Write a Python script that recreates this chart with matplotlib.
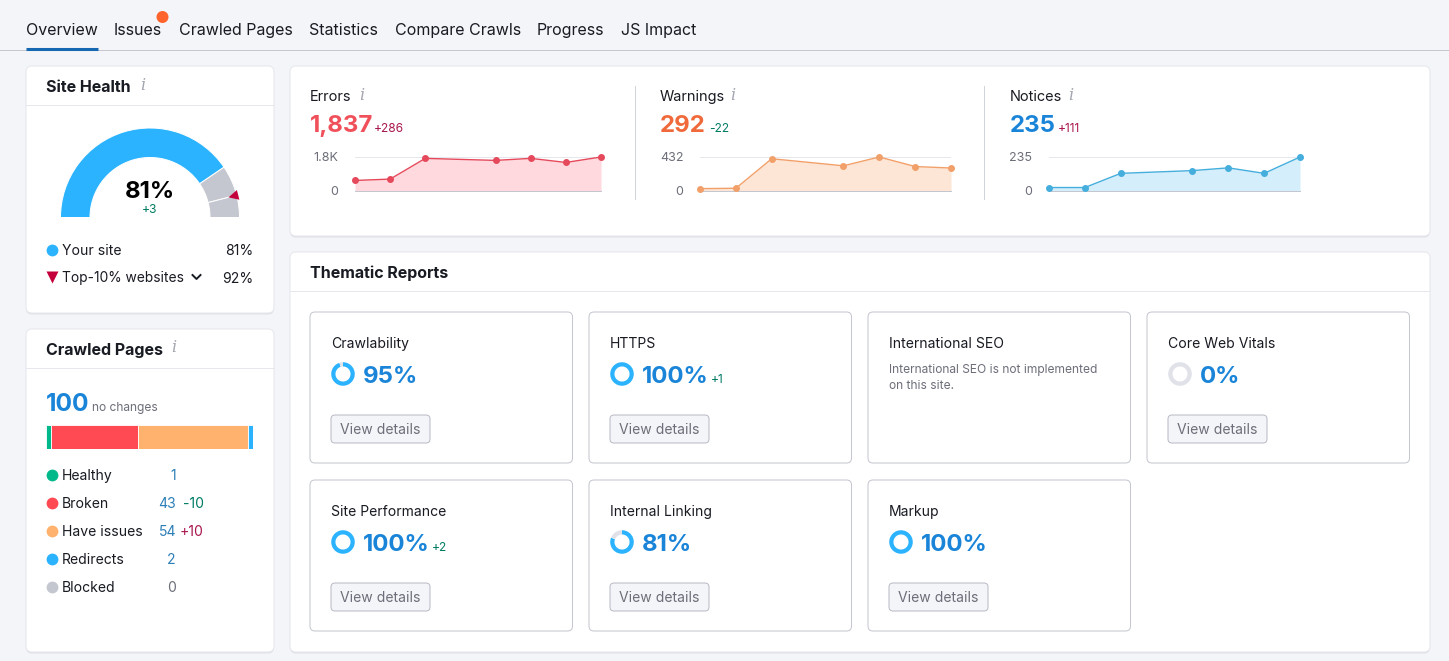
import matplotlib
matplotlib.use('Agg')
import matplotlib.pyplot as plt
from matplotlib.patches import FancyBboxPatch, Wedge, Polygon, Circle
import numpy as np

W, H = 1449, 661

tabs = ['Overview', 'Issues', 'Crawled Pages', 'Statistics', 'Compare Crawls', 'Progress', 'JS Impact']
tab_x = [26, 114, 179, 309, 395, 537, 621]

site_score = 81
site_delta = '+3'
top10_score = 92

trend_days = [0, 1, 2, 4, 5, 6, 7]
errors = [570, 643, 1763, 1653, 1763, 1543, 1837]
warnings = [30, 35, 410, 320, 432, 311, 292]
notices = [24, 24, 122, 141, 160, 122, 235]

page_labels = ['Healthy', 'Broken', 'Have issues', 'Redirects', 'Blocked']
page_values = [1, 43, 54, 2, 0]
page_deltas = ['', '-10', '+10', '', '']
page_colors = ['#00B88A', '#FF4953', '#FFB26E', '#2BB3FF', '#C4C7CF']

report_names = ['Crawlability', 'HTTPS', 'International SEO', 'Core Web Vitals',
                'Site Performance', 'Internal Linking', 'Markup']
report_scores = [95, 100, None, 0, 100, 81, 100]
report_deltas = ['', '+1', '', '', '+2', '', '']

INK = '#191B23'
GREY = '#6C6E79'
BORDER = '#D1D4DB'
BLUE = '#2BB3FF'
VALUE_BLUE = '#1A85D8'
UP_RED = '#A8174E'
DOWN_GREEN = '#007C65'
ONE_PX = 0.72

plt.rcParams['font.family'] = ['Inter', 'DejaVu Sans']

fig = plt.figure(figsize=(W / 100, H / 100), dpi=100, facecolor='#F4F5F9')
page = fig.add_axes([0, 0, 1, 1])
page.set_xlim(0, W)
page.set_ylim(H, 0)
page.axis('off')


def txt(x, y, s, px, color=INK, weight='normal', ha='left', **kw):
    # y is the middle of the capitals, so words with descenders stay on one line
    return page.text(x, y + 0.36 * px, s, fontsize=px * 0.72, color=color, fontweight=weight,
                     ha=ha, va='baseline', **kw)


def card(x0, y0, x1, y1, edge='#E6E7EC', radius=6, shadow=True):
    if shadow:
        page.add_patch(FancyBboxPatch((x0, y0 + 1.5), x1 - x0, y1 - y0,
                                      boxstyle=f'round,pad=0,rounding_size={radius}',
                                      fc='#DFE1E7', ec='none', zorder=1))
    page.add_patch(FancyBboxPatch((x0, y0), x1 - x0, y1 - y0,
                                  boxstyle=f'round,pad=0,rounding_size={radius}',
                                  fc='white', ec=edge, lw=ONE_PX, zorder=2))


def info(x, y):
    page.text(x, y, 'i', fontsize=11.5, color='#A4A6B0', style='italic', family='DejaVu Serif',
              ha='center', va='center', zorder=5)


def px_axes(x0, y0, x1, y1):
    return fig.add_axes([x0 / W, 1 - y1 / H, (x1 - x0) / W, (y1 - y0) / H])


# tabs
for name, x in zip(tabs, tab_x):
    txt(x, 29, name, 16, zorder=5)
page.plot([0, W], [50, 50], color='#C4C7CF', lw=ONE_PX, zorder=3)
page.plot([26, 98], [48.5, 48.5], color='#1467B0', lw=2.2, zorder=4, solid_capstyle='butt')
page.add_patch(Circle((162.5, 17), 6, fc='#FF642D', ec='none', zorder=5))

# outer cards
card(26, 66, 274, 313)
card(26, 329, 274, 652)
card(290, 66, 1430, 236)
card(290, 252, 1430, 652)
for x0, x1, y in [(26, 274, 105), (26, 274, 368), (290, 1430, 291)]:
    page.plot([x0, x1], [y, y], color='#E6E7EC', lw=ONE_PX, zorder=3)

# site health gauge
txt(46, 86, 'Site Health', 16, weight='bold', zorder=5)
info(143, 86)
cx, cy, r_out, r_in = 150, 217.5, 89.5, 60
segments = [(0, site_score, BLUE), (site_score, top10_score, '#C4C7CF'), (top10_score, 100, '#C4C7CF')]
for start, stop, col in segments:
    page.add_patch(Wedge((cx, cy), r_out, -180 + start * 1.8, -180 + stop * 1.8, width=r_out - r_in,
                         fc=col, ec='white', lw=ONE_PX, zorder=3))
ang = np.radians(180 - top10_score * 1.8)
ux, uy = np.cos(ang), -np.sin(ang)
tri = [(cx + 81 * ux, cy + 81 * uy),
       (cx + 91 * ux + 5 * -uy, cy + 91 * uy + 5 * ux),
       (cx + 91 * ux - 5 * -uy, cy + 91 * uy - 5 * ux)]
page.add_patch(Polygon(tri, fc='#C4003C', ec='none', zorder=4))
txt(150, 189, f'{site_score}%', 24, weight='bold', ha='center', color='black', zorder=5)
txt(150, 209, site_delta, 12, color=DOWN_GREEN, ha='center', zorder=5)

page.plot([52], [250], 'o', ms=8.5, color=BLUE, mec='none', zorder=5)
txt(62, 250, 'Your site', 14, zorder=5)
txt(253, 250, f'{site_score}%', 14, ha='right', zorder=5)
page.plot([52], [276.5], 'v', ms=8, color='#C4003C', mec='none', zorder=5)
txt(62, 277, 'Top-10% websites', 13.8, zorder=5)
page.plot([192.5, 196.5, 200.5], [275, 279, 275], color=INK, lw=1.4, zorder=5)
txt(253, 278, f'{top10_score}%', 14, ha='right', zorder=5)

# crawled pages
txt(46, 349, 'Crawled Pages', 16, weight='bold', zorder=5)
info(174, 348)
txt(46, 402, str(sum(page_values)), 24.5, color=VALUE_BLUE, weight='bold', zorder=5)
txt(92, 407, 'no changes', 12, color=GREY, zorder=5)

# tiny segments keep a minimum width on the bar, like the original widget
bar_ax = px_axes(46, 425, 253, 449)
left = 0
for val, col in zip(page_values, page_colors):
    if val == 0:
        continue
    width = max(val, 2.4)
    bar_ax.barh(0, width, left=left, height=1, color=col, edgecolor='white', linewidth=0.6)
    left += width
bar_ax.set_xlim(0, left)
bar_ax.set_ylim(-0.5, 0.5)
bar_ax.axis('off')

for i, (label, val, delta, col) in enumerate(zip(page_labels, page_values, page_deltas, page_colors)):
    y = 475 + i * 28
    page.plot([52], [y - 0.5], 'o', ms=8.5, color=col, mec='none', zorder=5)
    txt(62, y, label, 14, zorder=5)
    txt(176, y, str(val), 14, color='#2D7FB8' if val else GREY, ha='right', zorder=5)
    if delta:
        txt(203.5, y, delta, 14, color=DOWN_GREEN if delta[0] == '-' else UP_RED, ha='right', zorder=5)

# errors / warnings / notices
page.plot([635, 635], [86, 199], color=BORDER, lw=ONE_PX, zorder=3)
page.plot([984, 984], [86, 199], color=BORDER, lw=ONE_PX, zorder=3)

trend_specs = [
    ('Errors', '1,837', '+286', UP_RED, 310, 374, 362, '#F0505A', errors, '1.8K', 355, 601,
     '#E5495B', '#FFD9DD'),
    ('Warnings', '292', '-22', DOWN_GREEN, 660, 709, 733, '#F0693A', warnings, '432', 700, 951,
     '#F2A06A', '#FDE6D5'),
    ('Notices', '235', '+111', UP_RED, 1010, 1058, 1071, VALUE_BLUE, notices, '235', 1049, 1300,
     '#45AEDD', '#D4EEFB'),
]
for title, total, delta, delta_col, tx, dx, ix, col, series, top_label, ax0, ax1, line_col, fill_col in trend_specs:
    txt(tx, 96, title, 14.5, zorder=5)
    info(ix, 95)
    txt(tx, 123, total, 24, color=col, weight='bold', zorder=5)
    txt(dx, 128, delta, 12, color=delta_col, zorder=5)

    ax = px_axes(ax0, 157, ax1, 191)
    top = max(series)
    ax.axhline(top, color='#E6E7EC', lw=ONE_PX, zorder=0)
    ax.fill_between(trend_days, series, 0, color=fill_col, lw=0, zorder=1)
    ax.plot(trend_days, series, color=line_col, lw=1, marker='o', ms=4, clip_on=False, zorder=3)
    ax.set_xlim(0, 7)
    ax.set_ylim(0, top)
    ax.set_yticks([0, top])
    ax.set_yticklabels(['0', top_label], fontsize=9, color=GREY)
    ax.tick_params(axis='y', length=0, pad=12)
    ax.set_xticks([])
    for side in ['top', 'left', 'right']:
        ax.spines[side].set_visible(False)
    ax.spines['bottom'].set_color('#C4C7CF')
    ax.spines['bottom'].set_linewidth(ONE_PX)
    ax.patch.set_alpha(0)

# thematic reports
txt(310, 272, 'Thematic Reports', 16, weight='bold', zorder=5)
col_x = [310, 589, 868, 1147]
row_y = [312, 480]
delta_x = {'HTTPS': 711, 'Site Performance': 432}

for i, (name, score, delta) in enumerate(zip(report_names, report_scores, report_deltas)):
    x0 = col_x[i % 4]
    y0 = row_y[i // 4]
    card(x0, y0, x0 + 262.5, y0 + 151, edge='#C4C7CF', radius=5, shadow=False)
    txt(x0 + 21, y0 + 31, name, 14, zorder=5)
    if score is None:
        txt(x0 + 21, y0 + 57, 'International SEO is not implemented', 12, color=GREY, zorder=5)
        txt(x0 + 21, y0 + 73, 'on this site.', 12, color=GREY, zorder=5)
        continue

    ring = px_axes(x0 + 21, y0 + 50, x0 + 45, y0 + 74)
    ring.pie([score, 100 - score], colors=[BLUE, '#E0E1E9'], startangle=90, counterclock=False,
             radius=1, wedgeprops={'width': 0.36, 'linewidth': 0})
    ring.set_xlim(-1.02, 1.02)
    ring.set_ylim(-1.02, 1.02)

    txt(x0 + 53, y0 + 62, f'{score}%', 24, color=VALUE_BLUE, weight='bold', zorder=5)
    if delta:
        txt(delta_x[name], y0 + 67, delta, 12, color=DOWN_GREEN, zorder=5)

    page.add_patch(FancyBboxPatch((x0 + 21, y0 + 103), 99, 28,
                                  boxstyle='round,pad=0,rounding_size=4',
                                  fc='#F4F5F9', ec='#B9BBC4', lw=ONE_PX, zorder=4))
    txt(x0 + 70.5, y0 + 117, 'View details', 14, color=GREY, ha='center', zorder=5)

fig.savefig('out.png', dpi=100, facecolor=fig.get_facecolor())
